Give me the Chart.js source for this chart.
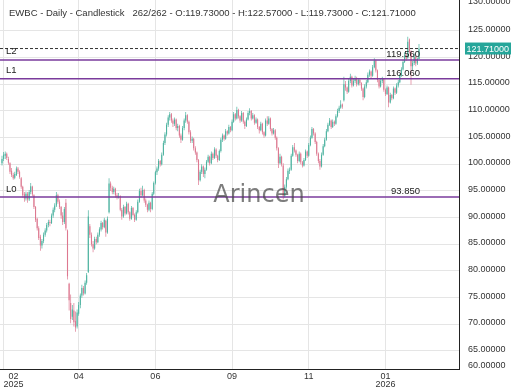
<!DOCTYPE html>
<html>
<head>
<meta charset="utf-8">
<script src="https://cdn.jsdelivr.net/npm/chart.js@4.4.1/dist/chart.umd.min.js"></script>
<style>
html, body { margin: 0; padding: 0; background: #fff; }
</style>
</head>
<body>
<canvas id="chart" width="520" height="390"></canvas>
<script>
// EWBC daily candles, 262 bars
const opens = [
  100.2, 101.0, 101.6, 102.0, 101.0, 100.2, 98.8, 98.0, 97.5, 98.0,
  99.2, 98.6, 97.4, 95.8, 94.4, 93.6, 94.5, 93.4, 94.8, 95.8,
  94.2, 92.0, 89.8, 88.0, 86.4, 84.8, 85.6, 86.8, 87.6, 88.6,
  89.2, 89.0, 90.4, 91.5, 92.3, 94.2, 93.0, 92.0, 90.4, 89.2,
  92.8, 87.6, 77.6, 74.0, 71.4, 72.6, 70.6, 69.6, 72.0, 73.6,
  75.4, 76.8, 75.8, 77.8, 79.8, 88.4, 86.8, 85.0, 84.2, 86.0,
  85.4, 86.8, 87.8, 89.0, 88.2, 89.4, 87.2, 91.0, 96.4, 95.6,
  94.8, 95.4, 94.2, 93.8, 94.0, 91.5, 90.2, 92.0, 90.8, 92.6,
  91.0, 89.8, 91.8, 90.5, 89.6, 91.0, 93.0, 95.0, 94.2, 95.2,
  93.2, 92.4, 91.5, 92.8, 91.6, 94.5, 96.5, 98.5, 99.2, 100.6,
  100.0, 101.8, 104.0, 105.6, 107.4, 108.8, 109.4, 108.2, 107.6, 108.4,
  106.8, 107.2, 105.4, 104.6, 106.8, 108.2, 109.2, 108.0, 106.0, 104.4,
  104.8, 103.0, 102.2, 100.8, 97.0, 98.6, 99.6, 98.2, 99.0, 100.5,
  101.4, 100.2, 102.0, 101.2, 102.8, 101.6, 100.8, 102.5, 104.6, 105.4,
  104.8, 106.2, 105.8, 107.0, 106.4, 108.0, 109.4, 108.6, 110.2, 109.0,
  108.2, 109.6, 108.0, 107.2, 108.4, 109.6, 110.0, 108.6, 109.2, 107.8,
  108.4, 107.0, 106.4, 107.6, 106.0, 105.4, 108.2, 107.6, 108.6, 106.6,
  105.8, 106.4, 105.0, 103.0, 100.2, 101.4, 99.8, 94.0, 95.8, 97.2,
  98.8, 99.0, 101.6, 103.2, 102.6, 101.8, 100.6, 102.0, 100.4, 99.8,
  100.8, 102.4, 101.6, 103.6, 105.0, 106.6, 105.8, 104.2, 102.0, 100.6,
  99.6, 101.8, 103.4, 104.6, 106.2, 107.4, 108.2, 107.0, 108.0, 107.6,
  109.0, 110.0, 110.6, 111.2, 112.0, 115.0, 114.4, 113.6, 115.6, 116.4,
  114.8, 115.6, 116.2, 115.0, 115.8, 115.2, 114.2, 112.6, 114.6, 115.4,
  116.8, 117.4, 116.6, 118.2, 119.4, 117.6, 115.8, 114.6, 115.6, 116.0,
  114.0, 113.2, 114.4, 111.6, 113.0, 112.4, 114.2, 113.4, 114.8, 115.4,
  116.6, 117.8, 119.2, 120.4, 120.0, 123.4, 121.2, 118.4, 119.0, 120.2,
  118.9, 119.73
];
const highs = [
  101.6, 102.3, 102.4, 102.2, 101.4, 100.4, 99.3, 98.4, 98.6, 99.6,
  99.5, 98.9, 97.6, 96.0, 94.8, 94.9, 94.8, 95.2, 96.5, 96.0,
  94.4, 92.2, 90.0, 88.4, 86.8, 86.0, 87.2, 88.0, 89.0, 89.6,
  89.6, 90.8, 91.9, 92.7, 94.8, 94.5, 93.4, 92.2, 91.0, 92.0,
  93.5, 87.8, 77.8, 75.6, 73.6, 74.0, 72.4, 72.8, 74.2, 75.8,
  77.4, 77.2, 78.2, 79.6, 91.4, 88.8, 87.2, 85.6, 86.4, 86.4,
  87.2, 88.2, 89.4, 89.2, 90.0, 89.6, 90.2, 97.4, 96.8, 96.0,
  95.8, 95.6, 94.6, 94.6, 94.2, 91.8, 92.4, 92.2, 93.0, 92.8,
  91.2, 92.2, 92.0, 90.8, 91.4, 93.4, 95.4, 95.6, 96.0, 95.4,
  93.6, 92.6, 93.2, 93.0, 94.8, 96.8, 98.8, 99.6, 101.0, 100.8,
  102.2, 104.4, 106.0, 107.8, 109.2, 109.8, 109.6, 108.6, 108.8, 108.6,
  107.6, 107.4, 105.8, 107.2, 108.6, 109.8, 109.4, 108.2, 106.4, 105.2,
  105.0, 103.4, 102.4, 101.0, 99.0, 100.0, 99.8, 99.4, 100.8, 101.8,
  101.6, 102.4, 102.2, 103.2, 103.0, 101.8, 102.8, 105.0, 105.8, 105.6,
  106.6, 106.4, 107.4, 107.2, 108.4, 109.8, 109.6, 110.8, 110.4, 109.2,
  110.0, 109.8, 108.2, 108.8, 110.0, 110.5, 110.2, 109.6, 109.4, 108.8,
  108.6, 107.2, 108.0, 107.8, 106.2, 108.6, 109.0, 109.0, 108.8, 106.8,
  106.8, 106.6, 105.2, 103.2, 102.0, 101.6, 100.2, 96.2, 97.6, 99.2,
  99.4, 102.0, 103.6, 104.0, 102.8, 102.0, 102.4, 102.2, 100.6, 101.2,
  102.8, 102.6, 104.0, 105.4, 107.0, 106.8, 106.0, 104.4, 102.2, 101.0,
  102.2, 103.8, 105.0, 106.6, 107.8, 108.7, 108.4, 108.4, 108.2, 109.4,
  110.4, 111.0, 112.0, 111.4, 116.4, 115.6, 114.6, 116.0, 117.0, 116.6,
  116.0, 116.6, 116.4, 116.2, 116.0, 115.4, 114.4, 115.0, 115.8, 117.2,
  117.8, 117.6, 118.6, 119.9, 119.6, 117.8, 116.0, 116.0, 116.4, 116.2,
  114.2, 114.8, 114.6, 113.4, 113.2, 114.6, 114.4, 115.2, 115.8, 117.0,
  118.2, 119.6, 121.0, 120.8, 123.9, 123.6, 121.4, 119.4, 120.8, 120.4,
  120.0, 122.57
];
const lows = [
  99.8, 100.6, 101.0, 100.8, 99.9, 98.2, 97.6, 97.1, 97.2, 97.8,
  98.2, 97.3, 95.4, 93.8, 93.0, 93.2, 92.8, 93.1, 94.4, 94.0,
  91.6, 89.2, 87.6, 85.8, 83.8, 84.2, 85.2, 86.4, 87.2, 88.2,
  88.4, 88.8, 90.0, 91.0, 92.0, 92.6, 91.6, 89.8, 88.6, 88.8,
  87.6, 78.4, 72.6, 70.2, 70.8, 69.6, 68.6, 69.2, 71.6, 73.0,
  75.0, 75.4, 75.6, 77.4, 79.6, 86.2, 84.6, 83.5, 84.0, 85.0,
  85.2, 86.4, 87.4, 87.8, 88.0, 86.4, 87.0, 90.8, 95.0, 94.4,
  94.4, 93.8, 93.4, 93.6, 91.2, 89.6, 90.0, 90.4, 90.6, 90.6,
  89.4, 89.6, 90.2, 89.2, 89.4, 90.8, 92.8, 93.8, 94.0, 92.8,
  92.0, 91.0, 91.2, 91.0, 91.4, 94.2, 96.2, 98.0, 98.8, 99.6,
  99.8, 101.6, 103.6, 105.2, 107.0, 108.2, 107.8, 107.0, 107.2, 106.4,
  106.2, 105.0, 104.0, 104.4, 106.4, 107.8, 107.6, 105.6, 104.0, 104.0,
  102.6, 101.8, 100.4, 96.1, 96.8, 98.2, 97.6, 97.4, 98.8, 100.2,
  99.8, 100.0, 100.8, 101.0, 101.2, 100.4, 100.6, 102.2, 104.2, 104.4,
  104.6, 105.4, 105.6, 106.0, 106.2, 107.8, 108.2, 108.4, 108.6, 107.8,
  108.0, 107.6, 106.6, 107.0, 108.2, 109.2, 108.2, 108.4, 107.4, 107.6,
  106.6, 105.8, 106.2, 105.6, 105.0, 105.2, 107.2, 107.4, 106.2, 105.4,
  105.6, 104.6, 102.6, 99.3, 100.0, 99.6, 93.4, 93.8, 95.4, 97.0,
  98.2, 98.8, 101.4, 102.2, 101.4, 100.2, 100.4, 100.0, 99.4, 99.6,
  100.6, 101.2, 101.4, 103.4, 104.8, 105.4, 103.8, 101.6, 100.2, 99.0,
  99.4, 101.6, 103.2, 104.4, 106.0, 107.2, 106.6, 106.8, 107.2, 107.4,
  108.8, 109.6, 110.4, 110.4, 111.8, 113.8, 113.2, 113.4, 115.2, 114.4,
  114.6, 115.2, 114.6, 114.8, 114.8, 113.8, 112.0, 112.4, 114.2, 115.2,
  116.4, 116.2, 116.4, 118.0, 117.2, 115.4, 114.2, 114.4, 115.2, 113.6,
  112.8, 113.0, 110.7, 111.4, 112.0, 112.2, 113.0, 113.2, 114.4, 115.2,
  116.4, 117.6, 119.0, 119.4, 119.8, 120.8, 114.9, 117.6, 118.6, 118.4,
  118.6, 119.73
];
const closes = [
  101.0, 101.8, 102.0, 101.2, 100.3, 98.6, 98.0, 97.4, 98.2, 99.2,
  98.6, 97.6, 95.8, 94.2, 93.6, 94.5, 93.4, 94.8, 95.9, 94.4,
  92.0, 89.6, 88.0, 86.2, 84.8, 85.6, 86.8, 87.6, 88.6, 89.2,
  89.0, 90.4, 91.5, 92.3, 94.2, 93.0, 92.0, 90.4, 89.2, 91.6,
  88.0, 79.0, 74.5, 71.0, 72.8, 70.4, 69.4, 72.2, 73.6, 75.4,
  76.8, 75.8, 77.8, 79.2, 90.2, 86.8, 85.0, 84.2, 86.0, 85.4,
  86.8, 87.8, 89.0, 88.2, 89.6, 87.2, 89.8, 96.4, 95.6, 94.8,
  95.4, 94.2, 93.8, 94.0, 91.5, 90.2, 92.0, 90.8, 92.6, 91.0,
  89.8, 91.8, 90.5, 89.6, 91.0, 93.0, 95.0, 94.2, 95.2, 93.2,
  92.4, 91.5, 92.8, 91.6, 94.5, 96.5, 98.5, 99.2, 100.6, 100.0,
  101.8, 104.0, 105.6, 107.4, 108.8, 109.4, 108.2, 107.6, 108.4, 106.8,
  107.2, 105.4, 104.6, 106.8, 108.2, 109.2, 108.0, 106.0, 104.4, 104.8,
  103.0, 102.2, 100.8, 97.0, 98.6, 99.6, 98.2, 99.0, 100.5, 101.4,
  100.2, 102.0, 101.2, 102.8, 101.6, 100.8, 102.5, 104.6, 105.4, 104.8,
  106.2, 105.8, 107.0, 106.4, 108.0, 109.4, 108.6, 110.2, 109.0, 108.2,
  109.6, 108.0, 107.2, 108.4, 109.6, 110.0, 108.6, 109.2, 107.8, 108.4,
  107.0, 106.4, 107.6, 106.0, 105.4, 108.2, 107.6, 108.6, 106.6, 105.8,
  106.4, 105.0, 103.0, 100.2, 101.4, 100.0, 94.0, 95.8, 97.2, 98.8,
  99.0, 101.6, 103.2, 102.6, 101.8, 100.6, 102.0, 100.4, 99.8, 100.8,
  102.4, 101.6, 103.6, 105.0, 106.6, 105.8, 104.2, 102.0, 100.6, 99.6,
  101.8, 103.4, 104.6, 106.2, 107.4, 108.2, 107.0, 108.0, 107.6, 109.0,
  110.0, 110.6, 111.2, 110.8, 115.0, 114.4, 113.6, 115.6, 116.4, 114.8,
  115.6, 116.2, 115.0, 115.8, 115.2, 114.2, 112.6, 114.6, 115.4, 116.8,
  117.4, 116.6, 118.2, 119.4, 117.6, 115.8, 114.6, 115.6, 116.0, 114.0,
  113.2, 114.4, 111.6, 113.0, 112.4, 114.2, 113.4, 114.8, 115.4, 116.6,
  117.8, 119.2, 120.4, 119.8, 123.0, 121.2, 118.4, 119.0, 120.2, 118.9,
  119.7, 121.71
];

// month ticks: bar index of the tick, and its label
const monthTickIdx = [1, 48, 96, 144, 192, 240];
const monthTickLabels = [['  02', '2025'], '04', '06', '09', '11', ['01', '2026']];

// price axis ticks
const yTickValues = [60, 65, 70, 75, 80, 85, 90, 95, 100, 105, 110, 115, 120, 125, 130];
const yTickLabels = yTickValues.map(v => v.toFixed(5));

// horizontal levels
const levelNames = ['L0', 'L1', 'L2'];
const levelValues = [93.85, 116.06, 119.56];

const symbol = 'EWBC';
const upColor = '#4db3a0';
const downColor = '#dd7890';
const levelColor = '#7a3b9c';

// visible ranges
const xMin = -1.25, xMax = 286.04;
const yMin = 61.62, yMax = 130.81;

const FONT = "'Liberation Sans', Arial, sans-serif";
const n = closes.length;
const last = n - 1;
const barColors = closes.map((c, i) => c >= opens[i] ? upColor : downColor);

const levelSets = levelValues.map(v => ({
    type: 'line',
    data: [{ x: xMin, y: v }, { x: xMax, y: v }],
    borderColor: levelColor,
    borderWidth: 1.5,
    pointRadius: 0,
    fill: false,
    order: 0
}));

const lastLine = {
    type: 'line',
    data: [{ x: xMin, y: closes[last] }, { x: xMax, y: closes[last] }],
    borderColor: '#333',
    borderWidth: 1,
    borderDash: [3, 2],
    pointRadius: 0,
    fill: false,
    order: 0
};

//----------------------------- overlay texts -----------------------------
const overlay = {
    id: 'overlay',
    afterDatasetsDraw(chart) {
        const { ctx } = chart;
        const x = chart.scales.x, y = chart.scales.y;
        ctx.save();
        // watermark
        ctx.font = "24px 'DejaVu Sans', sans-serif";
        ctx.fillStyle = 'rgba(70,70,70,0.7)';
        ctx.textAlign = 'center';
        ctx.textBaseline = 'alphabetic';
        ctx.fillText('Arincen', 259, 202);

        // level names and values
        ctx.font = '9.5px ' + FONT;
        ctx.fillStyle = '#222';
        levelValues.forEach((v, i) => {
            const py = y.getPixelForValue(v);
            ctx.textAlign = 'left';
            ctx.fillText(levelNames[i], 6, py - 5.5);
            ctx.textAlign = 'right';
            ctx.fillText(v.toFixed(3), x.getPixelForValue(last) + 1, py - 3);
        });
        ctx.restore();
    },
    afterDraw(chart) {
        const { ctx } = chart;
        const y = chart.scales.y;
        ctx.save();
        // title
        ctx.font = '9.5px ' + FONT;
        ctx.fillStyle = '#333';
        ctx.textAlign = 'left';
        ctx.textBaseline = 'alphabetic';
        const title = symbol + ' - Daily - Candlestick   ' + n + '/' + n +
            ' - O:' + opens[last].toFixed(5) + ' - H:' + highs[last].toFixed(5) +
            ' - L:' + lows[last].toFixed(5) + ' - C:' + closes[last].toFixed(5);
        ctx.fillText(title, 9, 16);

        // last price box
        const py = y.getPixelForValue(closes[last]);
        ctx.fillStyle = '#26a69a';
        ctx.fillRect(465, py - 6, 46, 12);
        ctx.fillStyle = '#fff';
        ctx.font = '9px ' + FONT;
        ctx.textBaseline = 'middle';
        ctx.fillText(closes[last].toFixed(5), 466.5, py + 0.5);
        ctx.restore();
    }
};

new Chart(document.getElementById('chart'), {
    type: 'bar',
    data: {
        datasets: [
            ...levelSets,
            lastLine,
            {
                label: 'body',
                data: closes.map((c, i) => ({ x: i, y: [opens[i], c] })),
                backgroundColor: barColors,
                barThickness: 1.1,
                inflateAmount: 0,
                grouped: false,
                borderWidth: 0,
                order: 1
            },
            {
                label: 'wick',
                data: closes.map((c, i) => ({ x: i, y: [lows[i], highs[i]] })),
                backgroundColor: barColors,
                barThickness: 0.7,
                inflateAmount: 0,
                grouped: false,
                borderWidth: 0,
                order: 2
            }
        ]
    },
    options: {
        responsive: false,
        animation: false,
        devicePixelRatio: 1,
        layout: { padding: 0 },
        plugins: {
            legend: { display: false },
            tooltip: { enabled: false }
        },
        events: [],
        scales: {
            x: {
                type: 'linear',
                min: xMin,
                max: xMax,
                offset: false,
                grid: {
                    offset: false,
                    drawTicks: false,
                    color: ctx => ctx.index < monthTickIdx.length ? '#e5e5e5' : 'rgba(0,0,0,0)'
                },
                border: { color: '#222', width: 1 },
                afterBuildTicks: s => {
                    s.ticks = monthTickIdx.map(v => ({ value: v })).concat([{ value: xMax }]);
                },
                ticks: {
                    align: 'inner',
                    autoSkip: false,
                    maxRotation: 0,
                    padding: 3,
                    color: '#333',
                    font: { family: FONT, size: 9, lineHeight: 0.9 },
                    callback: (v, i) => i < monthTickLabels.length ? monthTickLabels[i] : ''
                },
                afterFit: s => { s.height = 21; s.paddingLeft = 0; s.paddingRight = 0; }
            },
            y: {
                position: 'right',
                min: yMin,
                max: yMax,
                grid: {
                    drawTicks: false,
                    color: ctx => (ctx.tick && ctx.tick.value > 64 && ctx.tick.value < 128) ? '#e5e5e5' : 'rgba(0,0,0,0)'
                },
                border: { color: '#222', width: 1 },
                afterBuildTicks: s => {
                    // the two end labels sit on the edges of the plot
                    s.ticks = yTickValues.map(v => ({ value: v > yMax - 1 ? yMax - 0.5 : Math.max(v, yMin + 0.4) }));
                },
                ticks: {
                    padding: 9,
                    color: '#333',
                    labelOffset: -1.5,
                    font: { family: FONT, size: 9 },
                    callback: (v, i) => yTickLabels[i]
                },
                afterFit: s => { s.width = 61; s.paddingTop = 0; s.paddingBottom = 0; }
            }
        }
    },
    plugins: [overlay]
});
</script>
</body>
</html>
